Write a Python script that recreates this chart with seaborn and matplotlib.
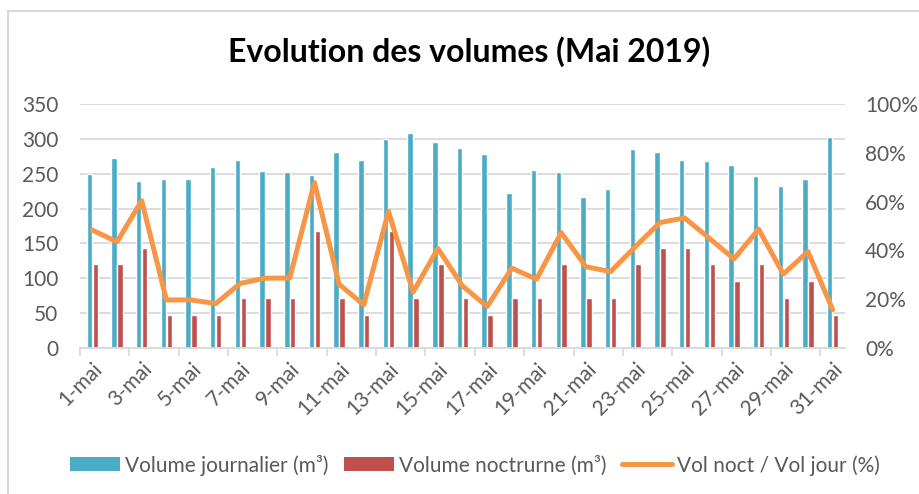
import numpy as np
import pandas as pd
import matplotlib
matplotlib.use("Agg")
import matplotlib.pyplot as plt
from matplotlib.patches import Patch
from matplotlib.lines import Line2D
import seaborn as sns

jours = [f"{d}-mai" for d in range(1, 32)]
vol_jour = [250, 273, 239, 242, 242, 260, 269, 254, 252, 248,
            281, 270, 300, 308, 295, 287, 278, 222, 256, 253,
            216, 228, 285, 281, 270, 268, 263, 247, 232, 242, 303]
vol_nuit = [120, 120, 144, 48, 48, 48, 72, 72, 72, 168,
            72, 48, 168, 72, 120, 72, 48, 72, 72, 120,
            72, 72, 120, 144, 144, 120, 96, 120, 72, 96, 48]
ratio = [48.3, 43.5, 60.4, 19.7, 19.7, 18.2, 26.5, 28.6, 28.7, 67.8,
         26.1, 17.7, 56.0, 22.9, 40.8, 25.4, 17.0, 32.7, 28.2, 47.3,
         33.3, 31.3, 41.5, 51.4, 53.3, 45.0, 36.5, 48.7, 30.3, 39.5, 15.7]
serie_labels = ["Volume journalier (m³)", "Volume noctrurne (m³)", "Vol noct / Vol jour (%)"]
yticks_left = [0, 50, 100, 150, 200, 250, 300, 350]
yticks_right = [0, 20, 40, 60, 80, 100]

BLUE = "#4BACC6"
RED = "#C0504D"
ORANGE = "#F79646"
GRID = "#D9D9D9"
TXT = "#595959"
FS = 15

sns.set_theme(style="white")
plt.rcParams["font.family"] = ["Lato", "DejaVu Sans"]

df = pd.DataFrame({"jour": jours * 2,
                   "volume": vol_jour + vol_nuit,
                   "serie": [serie_labels[0]] * 31 + [serie_labels[1]] * 31})
df_r = pd.DataFrame({"pos": np.arange(len(jours)), "ratio": ratio})

fig = plt.figure(figsize=(9.2, 4.94), dpi=100)
ax = fig.add_axes([80 / 920, 1 - 348 / 494, (845 - 80) / 920, (348 - 104) / 494])

sns.barplot(data=df, x="jour", y="volume", hue="serie",
            palette=[BLUE, RED], width=0.48, gap=0.08, ax=ax,
            legend=False, saturation=1, order=jours)
ax.set_ylim(0, 350)
ax.set_xlim(-0.5, 30.5)
ax.set_yticks(yticks_left)
ax.set_yticklabels([str(v) for v in yticks_left])
ax.yaxis.grid(True, color=GRID, linewidth=1.3)
ax.set_axisbelow(True)
for s in ["top", "right", "left"]:
    ax.spines[s].set_visible(False)
ax.spines["bottom"].set_color(GRID)
ax.spines["bottom"].set_linewidth(1.3)
ax.set_xlabel("")
ax.set_ylabel("")
ax.tick_params(axis="y", length=0, labelsize=FS, labelcolor=TXT, pad=15.5)

ax.set_xticks(np.arange(0, 31, 2))
ax.set_xticklabels([jours[i] for i in range(0, 31, 2)], rotation=45,
                   ha="right", rotation_mode="anchor")
ax.set_xticks(np.arange(-0.5, 31, 2), minor=True)
ax.tick_params(axis="x", which="major", length=0, labelsize=FS, labelcolor=TXT, pad=8)
ax.tick_params(axis="x", which="minor", length=6, color=GRID, width=1.3, bottom=True)

ax2 = ax.twinx()
sns.lineplot(data=df_r, x="pos", y="ratio", color=ORANGE, linewidth=3.6, ax=ax2)
ax2.set_ylim(0, 100)
ax2.set_yticks(yticks_right)
ax2.set_yticklabels([f"{v}%" for v in yticks_right])
ax2.tick_params(axis="y", length=0, labelsize=FS, labelcolor=TXT, pad=14.5)
ax2.set_ylabel("")
for s in ax2.spines.values():
    s.set_visible(False)
ax2.set_xlim(-0.5, 30.5)

fig.text(469 / 920, 1 - 52 / 494, "Evolution des volumes (Mai 2019)",
         ha="center", va="center", fontsize=23, fontweight="bold", color="black")

# chart area border (left and top edges)
fig.add_artist(Line2D([8 / 920, 8 / 920], [0, 1 - 11 / 494], transform=fig.transFigure,
                      color=GRID, linewidth=1.5))
fig.add_artist(Line2D([8 / 920, 1], [1 - 11 / 494, 1 - 11 / 494], transform=fig.transFigure,
                      color=GRID, linewidth=1.5))

handles = [Patch(facecolor=BLUE, edgecolor="none"),
           Patch(facecolor=RED, edgecolor="none"),
           Line2D([0], [0], color=ORANGE, linewidth=3.6)]
leg = fig.legend(handles, serie_labels, loc="center", bbox_to_anchor=(475 / 920, 1 - 465 / 494),
                 ncol=3, frameon=False, fontsize=FS, handlelength=2.4, handleheight=0.62,
                 handletextpad=0.25, columnspacing=0.75, labelcolor=TXT)

fig.savefig("out.png", dpi=100, facecolor="white")
